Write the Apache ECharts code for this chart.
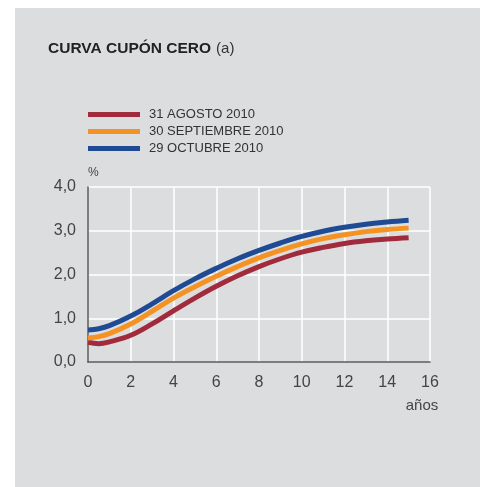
<!DOCTYPE html>
<html>
<head>
<meta charset="utf-8">
<script src="https://cdn.jsdelivr.net/npm/echarts@6/dist/echarts.min.js"></script>
<style>
  html, body { margin: 0; padding: 0; background: #fff; }
  #main { width: 480px; height: 487px; }
</style>
</head>
<body>
<div id="main"></div>
<script>
var years = [0, 0.5, 1, 2, 3, 4, 5, 6, 7, 8, 9, 10, 11, 12, 13, 14, 15];
var seriesNames = ['31 AGOSTO 2010', '30 SEPTIEMBRE 2010', '29 OCTUBRE 2010'];
var agosto = [0.45, 0.42, 0.46, 0.61, 0.87, 1.17, 1.46, 1.73, 1.97, 2.18, 2.36, 2.51, 2.62, 2.71, 2.77, 2.81, 2.84];
var septiembre = [0.55, 0.58, 0.65, 0.87, 1.16, 1.46, 1.72, 1.96, 2.18, 2.38, 2.55, 2.70, 2.82, 2.91, 2.98, 3.03, 3.06];
var octubre = [0.73, 0.76, 0.83, 1.05, 1.33, 1.63, 1.90, 2.14, 2.36, 2.55, 2.72, 2.87, 2.99, 3.08, 3.15, 3.20, 3.24];
var colors = ['#a12b3d', '#f49324', '#1f4b94'];

function pairs(vals) {
  return vals.map(function(v, i) { return [years[i], v]; });
}

var chart = echarts.init(document.getElementById('main'));

var allData = [agosto, septiembre, octubre];
var series = allData.map(function(d, i) {
  return {
    name: seriesNames[i],
    type: 'line',
    data: pairs(d),
    smooth: 0.4,
    showSymbol: false,
    lineStyle: { width: 5, color: colors[i] },
    itemStyle: { color: colors[i] },
    z: 3 + i
  };
});

chart.setOption({
  animation: false,
  graphic: [{
    type: 'rect',
    z: -10,
    shape: { x: 15, y: 8, width: 465, height: 479 },
    style: { fill: '#dcdddf' }
  }],
  title: {
    left: 43,
    top: 35,
    text: '{b|CURVA CUPÓN CERO} {n|(a)}',
    textStyle: {
      fontWeight: 'normal',
      rich: {
        b: { fontFamily: 'Liberation Sans', fontSize: 15.5, fontWeight: 'bold', color: '#222' },
        n: { fontFamily: 'Liberation Sans', fontSize: 15, fontWeight: 'normal', color: '#333' }
      }
    }
  },
  legend: {
    orient: 'vertical',
    left: 83,
    top: 103,
    itemWidth: 52,
    itemHeight: 5,
    itemGap: 4,
    icon: 'rect',
    data: seriesNames,
    textStyle: { fontFamily: 'Liberation Sans', fontSize: 13, color: '#333', padding: [0, 0, 0, 4] }
  },
  grid: { left: 88, right: 50, top: 187, bottom: 125, containLabel: false },
  xAxis: {
    type: 'value',
    min: 0,
    max: 16,
    interval: 2,
    name: 'años',
    nameLocation: 'end',
    nameGap: -8,
    nameTextStyle: { fontFamily: 'Liberation Sans', fontSize: 15, color: '#444', align: 'center', verticalAlign: 'top', padding: [36, 0, 0, 0] },
    axisLine: { lineStyle: { color: '#555', width: 1.5 } },
    axisTick: { show: false },
    axisLabel: { fontFamily: 'Liberation Sans', fontSize: 16, color: '#444', margin: 13 },
    splitLine: { show: true, lineStyle: { color: '#ffffff', width: 1.5 } }
  },
  yAxis: {
    type: 'value',
    min: 0,
    max: 4,
    interval: 1,
    name: '%',
    nameGap: 8,
    nameTextStyle: { fontFamily: 'Liberation Sans', fontSize: 12, color: '#444', align: 'left', padding: [0, 0, 0, 0] },
    axisLine: { show: true, lineStyle: { color: '#555', width: 1.5 } },
    axisTick: { show: false },
    axisLabel: {
      fontFamily: 'Liberation Sans', fontSize: 16, color: '#444', margin: 12,
      formatter: function(v) { return v.toFixed(1).replace('.', ','); }
    },
    splitLine: { show: true, lineStyle: { color: '#ffffff', width: 1.5 } }
  },
  series: series
});
</script>
</body>
</html>
